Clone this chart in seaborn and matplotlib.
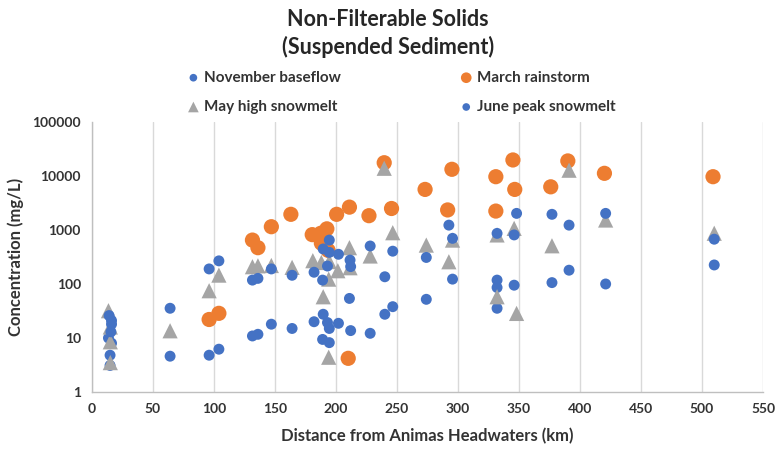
import matplotlib
matplotlib.use("Agg")
import matplotlib.pyplot as plt
import matplotlib.ticker as mticker
import seaborn as sns
import pandas as pd

# Sampling events: distance downstream (km) and suspended sediment (mg/L)
nov_km = [13.5, 16, 14.8, 14.8, 64, 96, 104, 131.5, 136, 147, 164, 182, 189.5, 189,
          193, 194.5, 194.5, 202, 211, 212, 228, 240, 246.5, 274, 295.5, 332, 332, 332,
          346, 377, 391, 421, 510]
nov_val = [10, 8, 4.8, 3.1, 4.6, 4.8, 6.2, 10.9, 11.7, 18, 15, 20, 27.5, 9.4,
           19.3, 15, 8.2, 18.7, 54, 13.7, 12.2, 27.5, 38, 52, 123, 118, 86, 35.5,
           95, 106, 180, 100, 225]

mar_km = [96, 104, 131.5, 136, 147, 163, 180.5, 187.5, 192.5, 188, 193.5, 200.5, 211,
          210, 227, 239.5, 245.5, 273, 291.5, 295, 331, 331, 345, 346.5, 376, 390, 420, 509]
mar_val = [22, 28.6, 650, 470, 1150, 1950, 820, 870, 1050, 570, 420, 1950, 2650,
           4.2, 1840, 17600, 2500, 5640, 2350, 13300, 9700, 2240, 19800, 5640, 6300,
           19000, 11200, 9700]

may_km = [13.5, 15, 15, 15, 64, 96, 104, 131.5, 136, 147, 164, 181, 188, 189.5, 194.5,
          194, 194, 201.5, 211, 211.5, 228, 239.5, 246.5, 274, 292.5, 295.5, 332, 332,
          346, 348, 377, 391, 421, 510]
may_val = [32, 16, 8.5, 3.5, 13.6, 75, 146, 209, 217, 220, 203, 270, 250, 58, 260,
           123, 4.4, 176, 470, 200, 330, 13900, 890, 525, 258, 650, 810, 58,
           1070, 28.5, 510, 12800, 1530, 870]

jun_km = [14, 16, 16, 15.5, 64, 96, 104, 131.5, 136, 147, 164, 182, 189.5, 189,
          194.5, 194.5, 193, 202, 211.5, 212, 228, 240, 246.5, 274, 292.5, 295.5, 332,
          348, 346, 377, 391, 421, 510]
jun_val = [26, 21, 18, 13, 35.5, 190, 268, 118, 127, 190, 145, 165, 445, 118,
           650, 385, 215, 355, 277, 210, 505, 136, 405, 310, 1230, 700, 865,
           2030, 810, 1950, 1230, 2030, 675]

x_ticks = list(range(0, 551, 50))
y_ticks = [1, 10, 100, 1000, 10000, 100000]

sns.set_style("white")
plt.rcParams["font.family"] = ["Lato", "DejaVu Sans"]

BLUE = "#4472C4"
ORANGE = "#ED7D31"
GRAY = "#A5A5A5"
TEXT = "#333333"

fig = plt.figure(figsize=(7.81, 4.55), dpi=100)
ax = fig.add_axes([0.1178, 0.1385, 0.8592, 0.5934])

series = [
    ("November baseflow", nov_km, nov_val, BLUE, "o", 62),
    ("March rainstorm", mar_km, mar_val, ORANGE, "o", 120),
    ("May high snowmelt", may_km, may_val, GRAY, "^", 120),
    ("June peak snowmelt", jun_km, jun_val, BLUE, "o", 62),
]
for name, xs, ys, col, mk, size in series:
    df = pd.DataFrame({"km": xs, "conc": ys})
    sns.scatterplot(data=df, x="km", y="conc", ax=ax, color=col, marker=mk,
                    s=size, edgecolor="none", linewidth=0, label=name, legend=False,
                    zorder=3)

ax.set_yscale("log")
ax.set_xlim(0, 550)
ax.set_ylim(1, 100000)
ax.set_xticks(x_ticks)
ax.xaxis.set_minor_locator(mticker.MultipleLocator(10))
ax.set_yticks(y_ticks)
ax.yaxis.set_major_formatter(mticker.FuncFormatter(lambda v, p: f"{int(round(v))}"))
ax.yaxis.set_minor_locator(mticker.LogLocator(base=10, subs=range(2, 10)))
ax.yaxis.set_minor_formatter(mticker.NullFormatter())

ax.grid(axis="x", which="major", color="#D9D9D9", linewidth=1.0, zorder=0)
ax.grid(axis="y", visible=False)
for side in ("top", "right"):
    ax.spines[side].set_visible(False)
for side in ("left", "bottom"):
    ax.spines[side].set_color("#BFBFBF")
    ax.spines[side].set_linewidth(1.0)

ax.tick_params(axis="both", which="major", length=5, width=1, color="#BFBFBF",
               labelsize=10, labelcolor=TEXT, pad=3)
ax.tick_params(axis="both", which="minor", length=3, width=0.8, color="#BFBFBF")
for lbl in ax.get_xticklabels() + ax.get_yticklabels():
    lbl.set_fontweight("bold")

ax.set_xlabel("Distance from Animas Headwaters (km)", fontsize=12, fontweight="bold",
              color=TEXT, labelpad=9)
ax.set_ylabel("Concentration (mg/L)", fontsize=12, fontweight="bold",
              color=TEXT, labelpad=6)

fig.text(0.497, 0.958, "Non-Filterable Solids", ha="center", va="center",
         fontsize=15.5, fontweight="bold", color="#262626")
fig.text(0.497, 0.896, "(Suspended Sediment)", ha="center", va="center",
         fontsize=15.5, fontweight="bold", color="#262626")

handles, labels = ax.get_legend_handles_labels()
order = [0, 2, 1, 3]
leg = fig.legend([handles[i] for i in order], [labels[i] for i in order],
                 loc="center", bbox_to_anchor=(0.513, 0.797), ncol=2, frameon=False,
                 prop={"weight": "bold", "size": 11}, labelcolor=TEXT,
                 columnspacing=7.7, handletextpad=0.2, handlelength=1.0,
                 labelspacing=1.0, markerscale=0.7)

fig.savefig("out.png", dpi=100)
